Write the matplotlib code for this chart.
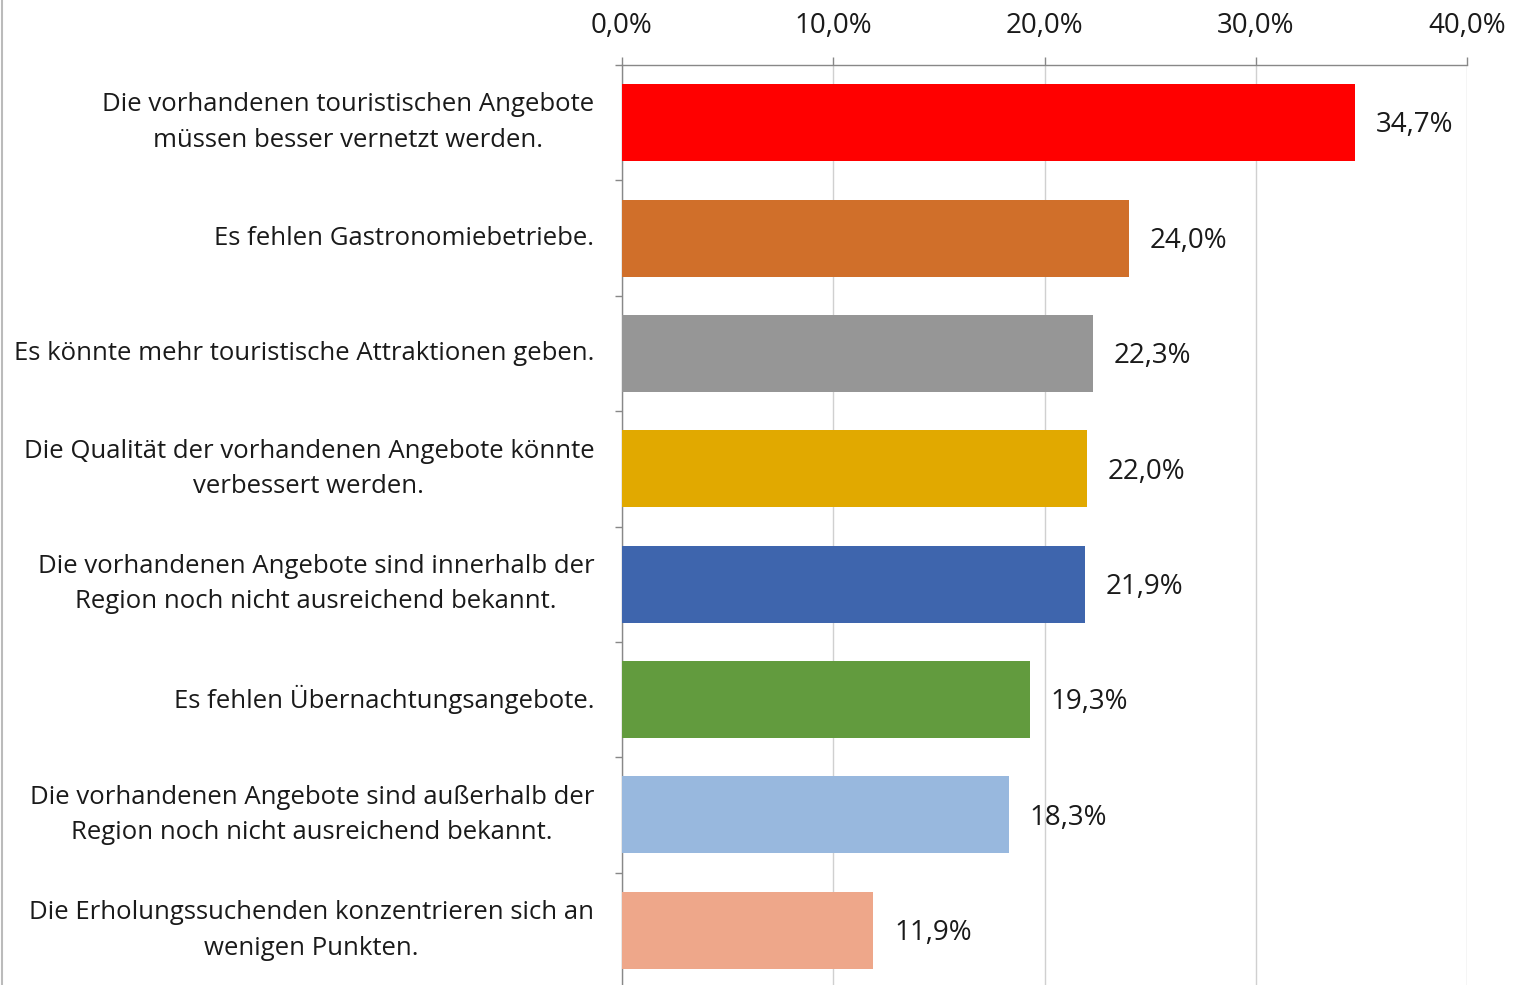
import matplotlib
matplotlib.use("Agg")
import matplotlib.pyplot as plt
from matplotlib.lines import Line2D
from matplotlib.ticker import FixedLocator

categories = [
    "Die vorhandenen touristischen Angebote\nmüssen besser vernetzt werden.",
    "Es fehlen Gastronomiebetriebe.",
    "Es könnte mehr touristische Attraktionen geben.",
    "Die Qualität der vorhandenen Angebote könnte\nverbessert werden.",
    "Die vorhandenen Angebote sind innerhalb der\nRegion noch nicht ausreichend bekannt.",
    "Es fehlen Übernachtungsangebote.",
    "Die vorhandenen Angebote sind außerhalb der\nRegion noch nicht ausreichend bekannt.",
    "Die Erholungssuchenden konzentrieren sich an\nwenigen Punkten.",
]
values = [34.7, 24.0, 22.3, 22.0, 21.9, 19.3, 18.3, 11.9]
colors = ["#FF0000", "#D06F2A", "#969696", "#E1A900", "#3E65AD", "#629B3E", "#98B8DE", "#EEA78A"]
xticks = [0, 10, 20, 30, 40]
xtick_labels = ["0,0%", "10,0%", "20,0%", "30,0%", "40,0%"]

plt.rcParams['font.family'] = ['Open Sans', 'DejaVu Sans']

W, H = 1514, 985
fig = plt.figure(figsize=(W / 100, H / 100), dpi=100)
top_px, bot_px = 65, 988
ax = fig.add_axes([622 / W, 1 - bot_px / H, (1467 - 622) / W, (bot_px - top_px) / H])

y = list(range(len(categories)))
ax.barh(y, values, height=0.667, color=colors, zorder=3)
ax.set_xlim(0, 40)
ax.set_ylim(len(categories) - 0.5, -0.5)

for yi, v in zip(y, values):
    ax.annotate(f"{v:.1f}".replace(".", ",") + "%", (v, yi), xytext=(15, -2),
                textcoords="offset points", va="center", ha="left",
                fontsize=20, color="#1a1a1a")

ax.xaxis.tick_top()
ax.set_xticks(xticks)
ax.set_xticklabels(xtick_labels, fontsize=20, color="#1a1a1a")
ax.tick_params(axis="x", direction="out", length=6, width=1, color="#888888", pad=12)
ax.grid(axis="x", color="#d0d0d0", linewidth=1, zorder=0)

ax.set_yticks(y)
ax.set_yticklabels(categories, fontsize=18.5, color="#1a1a1a")
for lbl in ax.get_yticklabels():
    lbl.set_multialignment("center")
    lbl.set_linespacing(1.55)
    lbl.set_verticalalignment("center")
ax.tick_params(axis="y", which="major", length=0, pad=20)
ax.yaxis.set_minor_locator(FixedLocator([i + 0.5 for i in range(-1, len(categories))]))
ax.tick_params(axis="y", which="minor", direction="out", length=5, width=1, color="#888888")

for s in ["right", "bottom"]:
    ax.spines[s].set_visible(False)
for s in ["top", "left"]:
    ax.spines[s].set_color("#888888")
    ax.spines[s].set_linewidth(1)

fig.add_artist(Line2D([2 / W, 2 / W], [0, 1], color="#bbbbbb", linewidth=1.5, transform=fig.transFigure))

fig.savefig("out.png", dpi=100)
